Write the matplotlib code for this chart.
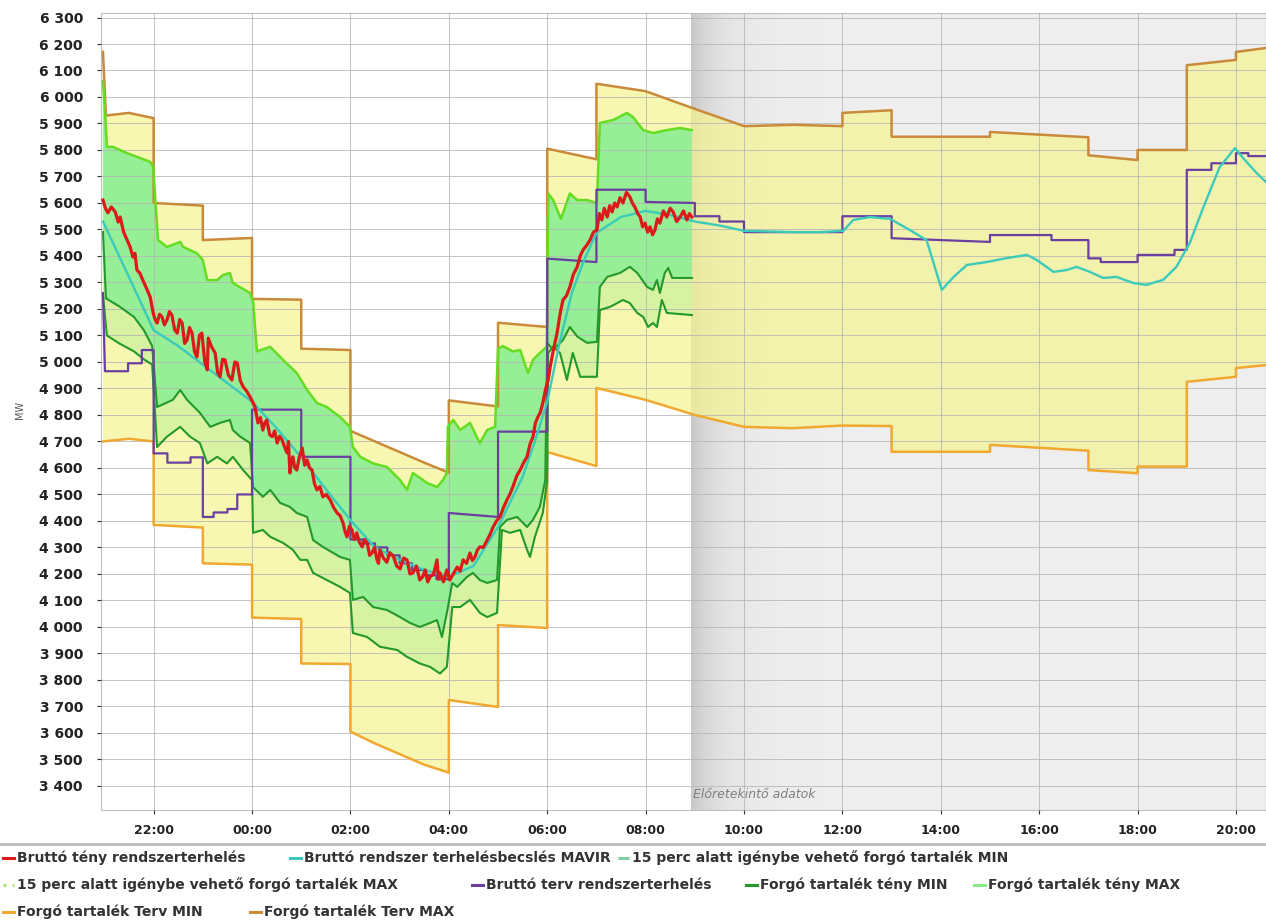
import numpy as np
import matplotlib
matplotlib.use("Agg")
import matplotlib.pyplot as plt
from matplotlib.lines import Line2D
from matplotlib.ticker import FuncFormatter

# ---------------- DATA (hours relative to midnight, MW) ----------------
red_h = [-3.03,-2.98,-2.93,-2.86,-2.78,-2.72,-2.68,-2.61,-2.54,-2.48,-2.42,-2.38,-2.34,-2.28,-2.22,-2.15,-2.07,-2.01,-1.97,-1.93,
         -1.88,-1.83,-1.78,-1.73,-1.68,-1.63,-1.57,-1.52,-1.47,-1.42,-1.37,-1.32,-1.27,-1.22,-1.17,-1.12,-1.07,-1.02,-0.96,-0.91,
         -0.89,-0.83,-0.75,-0.70,-0.65,-0.60,-0.55,-0.48,-0.41,-0.35,-0.30,-0.24,-0.18,-0.11,-0.04,0.01,0.06,0.12,0.17,0.22,
         0.26,0.30,0.36,0.41,0.46,0.51,0.56,0.61,0.66,0.71,0.74,0.77,0.80,0.83,0.87,0.91,0.96,1.02,1.07,1.12,
         1.17,1.22,1.27,1.32,1.38,1.44,1.51,1.59,1.66,1.73,1.79,1.85,1.89,1.93,1.98,2.03,2.08,2.13,2.18,2.24,
         2.29,2.34,2.39,2.44,2.49,2.54,2.57,2.60,2.67,2.74,2.80,2.87,2.94,3.01,3.08,3.15,3.21,3.27,3.34,3.41,
         3.47,3.52,3.57,3.62,3.69,3.76,3.79,3.82,3.89,3.96,4.02,4.09,4.17,4.23,4.29,4.36,4.43,4.48,4.53,4.58,
         4.63,4.70,4.78,4.84,4.90,4.97,5.04,5.11,5.18,5.24,5.30,5.38,5.45,5.52,5.59,5.65,5.71,5.76,5.81,5.86,
         5.91,5.97,6.02,6.06,6.13,6.20,6.26,6.32,6.39,6.46,6.53,6.61,6.67,6.73,6.80,6.87,6.94,7.01,7.06,7.11,
         7.16,7.22,7.27,7.32,7.37,7.42,7.48,7.54,7.61,7.68,7.73,7.78,7.84,7.89,7.94,7.99,8.04,8.09,8.14,8.19,
         8.24,8.29,8.36,8.43,8.50,8.56,8.63,8.70,8.77,8.84,8.89,8.94]
red_v = [5611,5580,5563,5585,5566,5528,5547,5490,5460,5435,5396,5410,5347,5335,5309,5280,5245,5185,5160,5147,
         5180,5170,5140,5158,5190,5177,5120,5109,5160,5147,5070,5083,5130,5109,5040,5019,5100,5109,5000,4970,
         5090,5060,5034,4960,4944,5010,5008,4950,4932,5000,4996,4930,4906,4890,4868,4850,4830,4770,4790,4743,
         4770,4781,4725,4718,4740,4694,4720,4706,4680,4657,4700,4581,4620,4642,4600,4592,4640,4675,4610,4630,
         4600,4592,4540,4517,4530,4491,4500,4479,4450,4430,4420,4392,4360,4340,4380,4366,4330,4355,4320,4302,
         4330,4317,4270,4280,4300,4253,4240,4291,4260,4244,4280,4268,4230,4219,4260,4253,4200,4204,4230,4177,
         4190,4215,4170,4189,4200,4253,4180,4204,4170,4215,4177,4200,4226,4210,4253,4240,4279,4250,4264,4290,
         4302,4300,4328,4350,4377,4400,4415,4450,4479,4500,4528,4570,4592,4620,4642,4690,4717,4770,4792,4810,
         4845,4900,4932,4981,5050,5109,5180,5234,5250,5283,5330,5359,5400,5423,5440,5460,5490,5498,5560,5536,
         5580,5547,5590,5566,5600,5585,5620,5600,5640,5623,5600,5585,5560,5547,5510,5524,5490,5510,5480,5498,
         5540,5524,5570,5547,5580,5566,5530,5547,5570,5536,5560,5547]

teal_h = [-3.03,-2.5,-2.0,-1.5,-1.0,-0.5,0.0,0.5,1.0,1.5,2.0,2.5,3.0,3.5,4.0,4.5,5.0,5.5,5.75,6.0,
          6.25,6.5,6.75,7.0,7.5,8.0,8.5,9.0,9.5,10.0,11.0,11.54,12.02,12.22,12.56,12.97,13.37,13.71,14.02,14.26,
          14.53,14.93,15.34,15.75,15.95,16.29,16.56,16.76,17.03,17.30,17.57,17.91,18.18,18.52,18.79,19.06,19.34,19.67,19.98,20.18,
          20.42,20.61]
teal_v = [5530,5320,5120,5060,4990,4920,4850,4750,4640,4520,4403,4300,4253,4215,4190,4230,4377,4566,4700,4850,
          5072,5260,5385,5487,5547,5570,5555,5530,5515,5495,5490,5490,5495,5536,5547,5540,5498,5460,5272,5321,
          5366,5377,5392,5404,5385,5340,5347,5359,5340,5317,5321,5298,5291,5310,5359,5449,5585,5736,5807,5762,
          5713,5679]

purple_h = [-3.03,-2.99,-2.52,-2.52,-2.24,-2.24,-2.0,-2.0,-1.72,-1.72,-1.25,-1.25,-1.0,-1.0,-0.78,-0.78,-0.5,-0.5,-0.3,-0.3,
            0.0,0.0,1.0,1.0,2.0,2.0,2.25,2.25,2.5,2.5,2.75,2.75,3.0,3.0,3.25,3.25,3.5,3.5,3.75,3.75,
            4.0,4.0,5.0,5.0,6.0,6.0,7.0,7.0,8.0,8.0,9.0,9.0,9.5,9.5,10.0,10.0,12.0,12.0,13.0,13.0,
            15.0,15.0,16.25,16.25,17.0,17.0,17.25,17.25,18.0,18.0,18.75,18.75,19.0,19.0,19.5,19.5,20.0,20.0,20.25,20.25,
            20.61]
purple_v = [5260,4965,4965,4995,4995,5045,5045,4655,4655,4620,4620,4640,4640,4415,4415,4432,4432,4445,4445,4500,
            4500,4820,4820,4642,4642,4330,4330,4315,4315,4300,4300,4270,4270,4240,4240,4215,4215,4195,4195,4180,
            4180,4430,4415,4737,4737,5390,5377,5650,5650,5604,5600,5550,5550,5530,5530,5490,5490,5550,5550,5467,
            5453,5479,5479,5460,5460,5391,5391,5377,5377,5404,5404,5423,5423,5725,5725,5750,5750,5788,5788,5777,
            5777]

tervmax_h = [-3.03,-2.97,-2.5,-2.0,-2.0,-1.0,-1.0,0.0,0.0,1.0,1.0,2.0,2.0,2.5,3.0,3.5,4.0,4.0,5.0,5.0,
             6.0,6.0,7.0,7.0,8.0,9.0,10.0,11.0,12.0,12.0,13.0,13.0,15.0,15.0,17.0,17.0,18.0,18.0,19.0,19.0,
             20.0,20.0,20.61]
tervmax_v = [6170,5930,5940,5920,5600,5590,5460,5468,5238,5235,5050,5045,4740,4700,4660,4620,4582,4855,4832,5148,
             5132,5805,5765,6050,6022,5955,5890,5895,5890,5940,5950,5850,5850,5868,5848,5780,5762,5800,5800,6120,
             6140,6170,6185]

tervmin_h = [-3.03,-2.5,-2.0,-2.0,-1.0,-1.0,0.0,0.0,1.0,1.0,2.0,2.0,2.5,3.0,3.5,4.0,4.0,5.0,5.0,6.0,
             6.0,7.0,7.0,8.0,9.0,10.0,11.0,12.0,13.0,13.0,15.0,15.0,17.0,17.0,18.0,18.0,19.0,19.0,20.0,20.0,
             20.61]
tervmin_v = [4700,4710,4700,4385,4375,4240,4235,4035,4030,3862,3860,3605,3560,3520,3480,3450,3724,3698,4007,3996,
             4660,4607,4902,4857,4800,4755,4750,4760,4758,4661,4661,4687,4665,4592,4580,4605,4605,4925,4944,4977,
             4988]

tenymax_h = [-3.03,-2.99,-2.95,-2.83,-2.54,-2.28,-2.07,-2.01,-1.91,-1.73,-1.46,-1.40,-1.12,-1.00,-0.91,-0.71,-0.59,-0.45,-0.39,-0.04,
             0.02,0.10,0.37,0.63,0.91,1.12,1.32,1.52,1.79,1.99,2.05,2.20,2.46,2.74,3.01,3.15,3.27,3.56,3.76,3.88,
             3.96,3.98,4.09,4.23,4.43,4.63,4.78,4.94,5.00,5.10,5.30,5.45,5.61,5.71,5.85,5.99,6.02,6.12,6.28,6.46,
             6.61,6.81,7.01,7.07,7.34,7.62,7.74,7.95,8.15,8.43,8.70,8.94]
tenymax_v = [6060,5950,5812,5812,5788,5770,5755,5737,5460,5434,5453,5434,5410,5385,5309,5309,5328,5336,5298,5260,
             5230,5040,5057,5008,4958,4894,4845,4830,4792,4755,4679,4642,4617,4604,4554,4517,4581,4543,4528,4554,
             4581,4755,4781,4743,4770,4694,4743,4755,5050,5060,5040,5045,4958,5008,5034,5057,5636,5611,5540,5636,
             5611,5611,5600,5902,5913,5940,5925,5875,5864,5875,5883,5875]

tenymin_h = [-3.03,-2.97,-2.70,-2.40,-2.20,-2.03,-1.93,-1.61,-1.46,-1.32,-1.06,-0.85,-0.65,-0.45,-0.39,-0.24,-0.04,0.02,0.22,0.37,
             0.57,0.77,0.91,1.12,1.24,1.44,1.79,1.99,2.05,2.26,2.46,2.74,3.01,3.21,3.41,3.62,3.76,3.86,3.96,4.07,
             4.17,4.37,4.49,4.63,4.78,4.98,5.04,5.18,5.39,5.59,5.71,5.85,5.96,6.00,6.12,6.32,6.46,6.61,6.81,7.01,
             7.07,7.22,7.48,7.68,7.83,8.03,8.15,8.23,8.29,8.39,8.46,8.54,8.94]
tenymin_v = [5490,5240,5210,5170,5120,5060,4830,4857,4894,4857,4808,4755,4770,4781,4743,4718,4694,4528,4491,4517,
             4468,4453,4430,4415,4328,4302,4264,4253,4102,4113,4075,4064,4037,4015,4000,4015,4026,3962,4053,4166,
             4151,4189,4204,4177,4166,4177,4377,4404,4415,4377,4404,4453,4554,5072,5045,5083,5132,5096,5072,5076,
             5283,5321,5336,5359,5336,5283,5272,5309,5260,5336,5355,5317,5317]

perc15min_h = [-3.03,-2.95,-2.70,-2.40,-2.20,-2.03,-1.93,-1.73,-1.46,-1.26,-1.06,-0.91,-0.71,-0.51,-0.39,-0.18,0.00,0.02,0.22,0.37,
               0.63,0.83,0.98,1.12,1.24,1.52,1.79,1.99,2.05,2.34,2.60,2.95,3.15,3.41,3.62,3.82,3.96,4.07,4.23,4.43,
               4.63,4.78,4.98,5.08,5.24,5.45,5.59,5.65,5.75,5.91,6.00,6.02,6.12,6.26,6.40,6.52,6.67,7.01,7.07,7.28,
               7.54,7.68,7.83,7.95,8.05,8.15,8.23,8.33,8.43,8.94]
perc15min_v = [5250,5100,5070,5040,5010,4990,4679,4718,4755,4718,4694,4617,4642,4617,4642,4592,4554,4355,4366,4340,
               4317,4291,4253,4253,4204,4177,4151,4128,3977,3962,3925,3913,3887,3862,3849,3824,3849,4075,4075,4102,
               4053,4037,4053,4366,4355,4366,4291,4264,4340,4430,4554,5034,5057,5034,4932,5034,4944,4944,5196,5208,
               5234,5222,5185,5170,5132,5147,5132,5234,5185,5177]

y_ticks = list(range(3400, 6301, 100))
x_ticks = [-2, 0, 2, 4, 6, 8, 10, 12, 14, 16, 18, 20]
x_tick_labels = ["22:00", "00:00", "02:00", "04:00", "06:00", "08:00", "10:00",
                 "12:00", "14:00", "16:00", "18:00", "20:00"]
forecast_start = 8.92
legend_labels = ["Bruttó tény rendszerterhelés", "Bruttó rendszer terhelésbecslés MAVIR",
                 "15 perc alatt igénybe vehető forgó tartalék MIN",
                 "15 perc alatt igénybe vehető forgó tartalék MAX", "Bruttó terv rendszerterhelés",
                 "Forgó tartalék tény MIN", "Forgó tartalék tény MAX",
                 "Forgó tartalék Terv MIN", "Forgó tartalék Terv MAX"]

# ---------------- FIGURE ----------------
W, H = 1266, 924
fig = plt.figure(figsize=(W / 100, H / 100), dpi=100)
ax = fig.add_axes([101 / W, 1 - 810 / H, (W - 101) / W, (810 - 13) / H])

XL = (-3.07, 20.61)
YL = (3309, 6317)

C_RED = "#dd1a1a"
C_TEAL = "#3ccabb"
C_PURPLE = "#6a3fa0"
C_OMAX = "#c98a3a"
C_OMIN = "#f0a830"
C_LIME = "#66dd22"
C_DG = "#22992a"

# forecast shading gradient (background)
n = 400
xs = np.linspace(0, 1, n)
alpha = 0.13 + 0.30 * np.exp(-xs / 0.05)
img = np.zeros((1, n, 4))
img[..., :3] = 0.5
img[0, :, 3] = alpha
ax.imshow(img, extent=[forecast_start, XL[1], YL[0], YL[1]], aspect="auto",
          interpolation="bilinear", zorder=0.5)

# bands
ax.fill(np.concatenate([tervmax_h, tervmin_h[::-1]]), np.concatenate([tervmax_v, tervmin_v[::-1]]),
        color="#f5f592", alpha=0.7, lw=0, zorder=1)
ax.fill(np.concatenate([tenymin_h, perc15min_h[::-1]]), np.concatenate([tenymin_v, perc15min_v[::-1]]),
        color="#d6f2a2", lw=0, zorder=1.1)
ax.fill(np.concatenate([tenymax_h, tenymin_h[::-1]]), np.concatenate([tenymax_v, tenymin_v[::-1]]),
        color="#96ee96", lw=0, zorder=1.1)

# lines
ax.plot(tervmin_h, tervmin_v, color=C_OMIN, lw=1.8, zorder=3)
ax.plot(tervmax_h, tervmax_v, color=C_OMAX, lw=1.8, zorder=3)
ax.plot(tenymax_h, tenymax_v, color=C_LIME, lw=1.8, zorder=3.2)
ax.plot(tenymin_h, tenymin_v, color=C_DG, lw=1.5, zorder=3.2)
ax.plot(perc15min_h, perc15min_v, color=C_DG, lw=1.5, zorder=3.2)
ax.plot(purple_h, purple_v, color=C_PURPLE, lw=1.6, zorder=3.4)
ax.plot(teal_h, teal_v, color=C_TEAL, lw=1.7, zorder=3.5)
ax.plot(red_h, red_v, color=C_RED, lw=2.3, zorder=4)

ax.set_xlim(*XL)
ax.set_ylim(*YL)

ax.set_yticks(y_ticks)
ax.yaxis.set_major_formatter(FuncFormatter(lambda v, p: f"{int(v):,}".replace(",", " ")))
ax.set_xticks(x_ticks)
ax.set_xticklabels(x_tick_labels)
ax.tick_params(axis="y", length=3, pad=10, labelsize=10, colors="#333333")
ax.tick_params(axis="x", length=3, pad=7, labelsize=9, colors="#333333")
for lab in ax.get_yticklabels() + ax.get_xticklabels():
    lab.set_fontweight("bold")
    lab.set_color("#222222")

ax.set_axisbelow(False)
ax.grid(True, color="#b4b4b4", lw=0.7, alpha=0.8)
for s in ax.spines.values():
    s.set_color("#c0c0c0")
    s.set_linewidth(0.8)

ax.text(forecast_start + 0.05, 3366, "Előretekintő adatok", style="italic", color="#808080",
        fontsize=9, va="center", ha="left", zorder=5)

fig.text(20 / W, 1 - 410 / H, "MW", rotation=90, fontsize=7, color="#555555",
         ha="center", va="center")

# separator above legend
fig.add_artist(Line2D([0, 1], [1 - 844 / H, 1 - 844 / H], color="#bdbdbd", lw=2,
                      transform=fig.transFigure))

# legend (manual placement, pixel positions)
leg_colors = [C_RED, C_TEAL, "#7fd0a8", "#a8e87a", C_PURPLE, C_DG, "#86e886", C_OMIN, C_OMAX]
leg_styles = ["-", "-", (0, (4, 2, 1, 2)), (0, (1, 2)), "-", "-", "-", "-", "-"]
leg_pos = [(3, 858), (290, 858), (618, 858),
           (3, 885), (472, 885), (746, 885), (974, 885),
           (3, 912), (250, 912)]
for lab, col, ls, (px, py) in zip(legend_labels, leg_colors, leg_styles, leg_pos):
    yf = 1 - py / H
    fig.add_artist(Line2D([px / W, (px + 11) / W], [yf, yf], color=col, lw=2.2, ls=ls,
                          transform=fig.transFigure))
    fig.text((px + 14) / W, yf, lab, fontsize=10, fontweight="bold", color="#333333",
             ha="left", va="center")

fig.savefig("out.png", dpi=100)
